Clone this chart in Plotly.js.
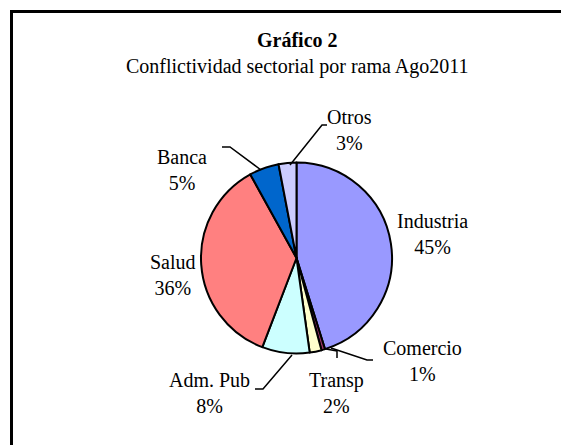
<!DOCTYPE html>
<html>
<head>
<meta charset="utf-8">
<script src="https://cdn.plot.ly/plotly-3.0.1.min.js"></script>
<style>html,body{margin:0;padding:0;background:#fff;}#chart{width:561px;height:445px;}</style>
</head>
<body>
<div id="chart"></div>
<script>
// Data
const categories = ["Industria", "Comercio", "Transp", "Adm. Pub", "Salud", "Banca", "Otros"];
const values = [45, 0.6, 2, 8, 36, 5, 3];
const colors = ["#9999FF", "#993366", "#FFFFCC", "#CCFFFF", "#FF8080", "#0066CC", "#CCCCFF"];
const titleText = "Gráfico 2";
const subtitleText = "Conflictividad sectorial por rama Ago2011";

const W = 561, H = 445;
const px = x => x / W;
const py = y => 1 - y / H;

const total = values.reduce((a, b) => a + b, 0);
const pct = values.map(v => Math.round(v / total * 100));

// label positions (pixels, centre of two-line block)
const labelPos = [[432, 234], [422, 361], [336, 393], [209, 393], [173, 275], [182, 170], [349, 130]];
// leader lines (pixels)
const leaders = [
  null,
  [[331, 348], [367, 360], [373, 360]],
  [[326, 349], [337, 351], [337, 358]],
  [[292, 355], [263, 389], [255, 389]],
  null,
  [[261, 170], [230, 147], [222, 147]],
  [[290, 165], [322, 125], [327, 125]]
];

const font = {family: "Liberation Serif, Times New Roman, serif", size: 20, color: "#000"};

const annotations = categories.map((c, i) => ({
  xref: "paper", yref: "paper", x: px(labelPos[i][0]), y: py(labelPos[i][1]),
  xanchor: "center", yanchor: "middle", showarrow: false, align: "center",
  text: c + "<br>" + pct[i] + "%", font: font
}));
annotations.push({xref: "paper", yref: "paper", x: px(297), y: py(40), xanchor: "center", yanchor: "middle",
  showarrow: false, text: "<b>" + titleText + "</b>", font: Object.assign({}, font, {size: 20})});
annotations.push({xref: "paper", yref: "paper", x: px(297), y: py(66), xanchor: "center", yanchor: "middle",
  showarrow: false, text: subtitleText, font: font});

const shapes = [];
leaders.forEach(l => {
  if (!l) return;
  const path = l.map((p, j) => (j ? "L" : "M") + px(p[0]) + "," + py(p[1])).join(" ");
  shapes.push({type: "path", xref: "paper", yref: "paper", path: path, line: {color: "#000", width: 1.5}});
});
shapes.push({type: "path", xref: "paper", yref: "paper",
  path: "M" + px(11.5) + "," + py(445) + " L" + px(11.5) + "," + py(11.5) + " L" + px(561) + "," + py(11.5),
  line: {color: "#000", width: 3}});

const trace = {
  type: "pie", labels: categories, values: values, sort: false, direction: "clockwise", rotation: 0,
  marker: {colors: colors, line: {color: "#000", width: 2}},
  textinfo: "none", hoverinfo: "none", showlegend: false,
  domain: {x: [px(201), px(392)], y: [py(353.5), py(162.5)]}
};

Plotly.newPlot("chart", [trace], {
  width: W, height: H, margin: {l: 0, r: 0, t: 0, b: 0},
  paper_bgcolor: "#fff", plot_bgcolor: "#fff", showlegend: false,
  annotations: annotations, shapes: shapes
}, {staticPlot: true});
</script>
</body>
</html>
